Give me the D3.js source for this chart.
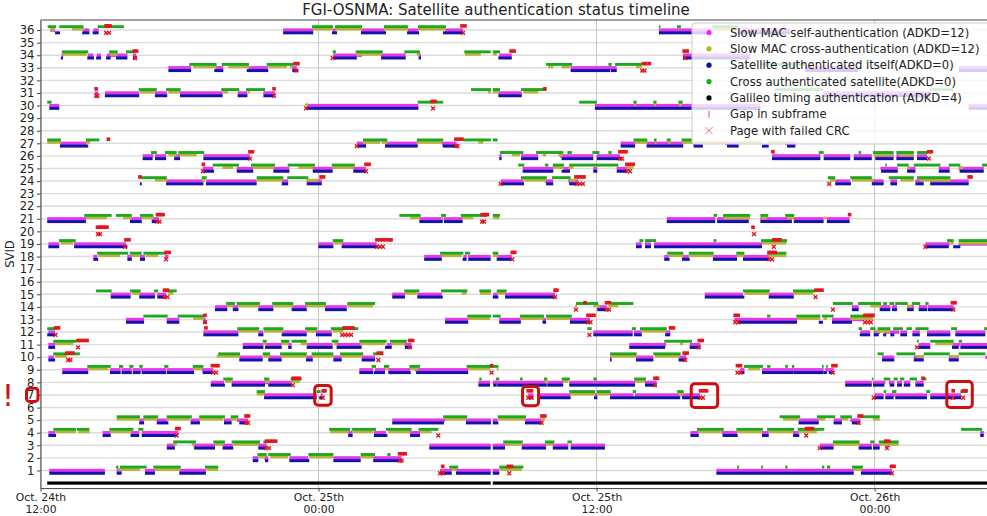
<!DOCTYPE html>
<html>
<head>
<meta charset="utf-8">
<script src="https://cdn.jsdelivr.net/npm/d3@7"></script>
<style>
  body { margin: 0; background: #fff; }
  svg text { font-family: "DejaVu Sans", sans-serif; }
</style>
</head>
<body>
<div id="chart"></div>
<script>
// hours since Oct 24th 00:00, one entry per segment: [svid, start, end]
var slowSelf = [
[36,12.41,12.63],[36,13.85,14.11],[36,14.28,14.51],[36,22.47,23.77],[36,24.62,24.75],[36,25.83,26.87],[36,27.86,28.29],[36,29.46,30.24],[36,38.69,40.95],[36,42.1,44.35],
[34,12.92,12.98],[34,14.04,14.28],[34,14.43,14.61],[34,14.86,15.75],[34,15.99,16.12],[34,24.64,25.65],[34,25.65,25.88],[34,26.70,27.76],[34,28.32,28.42],[34,31.80,32.34],[34,39.73,42.62],
[33,17.52,18.50],[33,19.56,19.89],[33,20.97,21.81],[33,22.84,23.06],[33,34.88,36.87],[33,45.0,47.3],[33,51.63,52.86],
[31,14.35,14.49],[31,14.78,16.26],[31,16.94,17.45],[31,18.02,19.86],[31,20.51,20.93],[31,21.62,22.12],[31,31.76,32.77],[31,45.78,50.40],
[30,12.38,12.81],[30,23.49,28.31],[30,35.93,43.07],[30,52.06,52.86],
[27,12.84,13.99],[27,25.65,26.05],[27,26.87,28.28],[27,29.32,29.96],[27,37.04,37.66],[27,38.16,39.74],[27,40.17,40.55],[27,41.56,42.13],[27,44.14,44.58],
[26,16.41,16.87],[26,16.94,17.42],[26,17.77,18.02],[26,19.03,21.04],[26,31.80,31.90],[26,32.74,33.48],[26,34.42,35.86],[26,36.01,37.01],[26,43.57,45.66],[26,45.80,46.95],[26,47.10,47.88],[26,48.03,48.82],[26,48.94,49.69],[26,49.83,50.26],
[25,19.00,19.46],[25,20.47,21.18],[25,22.05,22.74],[25,23.75,24.61],[25,25.50,26.05],[25,32.81,34.13],[25,34.56,34.85],[25,35.86,36.03],[25,36.87,37.44],[25,48.25,49.00],[25,49.40,49.76],[25,50.77,51.24],[25,51.63,52.71],
[24,17.42,19.03],[24,19.14,21.33],[24,22.41,22.69],[24,23.49,24.14],[24,31.86,32.84],[24,33.77,34.13],[24,34.78,35.21],[24,46.30,46.95],[24,47.88,48.39],[24,48.68,48.97],[24,49.76,50.12],[24,50.40,52.06],
[21,12.29,13.96],[21,15.86,16.37],[21,16.80,17.11],[21,28.35,29.38],[21,29.41,30.22],[21,39.03,41.12],[21,41.20,42.57],[21,43.07,44.43],[21,44.51,45.80],[21,45.94,46.92],
[19,12.34,12.81],[19,13.45,15.69],[19,23.99,24.64],[19,25.00,26.51],[19,37.70,37.95],[19,38.09,38.35],[19,38.48,43.14],[19,50.19,51.24],[19,51.63,52.86],
[18,14.28,14.45],[18,15.75,15.94],[18,16.29,16.51],[18,17.37,17.52],[18,28.56,29.32],[18,30.25,30.39],[18,30.46,31.43],[18,31.69,32.34],[18,38.92,39.11],[18,39.69,39.98],[18,41.02,42.06],[18,42.32,43.50],
[15,15.03,15.89],[15,16.26,16.94],[15,17.04,17.42],[15,27.18,27.73],[15,28.26,29.32],[15,31.54,31.73],[15,32.05,34.21],[15,40.67,42.32],[15,43.43,44.51],
[14,19.53,20.06],[14,20.30,20.54],[14,21.40,22.05],[14,22.84,23.49],[14,24.28,25.22],[14,36.03,36.44],[14,47.02,47.31],[14,48.22,48.68],[14,48.75,48.97],[14,49.40,49.69],[14,49.90,50.26],[14,50.29,51.41],
[13,15.69,16.47],[13,17.45,17.99],[13,19.03,19.13],[13,29.46,30.46],[13,31.80,32.73],[13,33.67,33.82],[13,34.85,35.72],[13,41.95,44.65],[13,46.16,47.54],
[12,12.34,12.63],[12,19.03,20.54],[12,21.40,21.62],[12,22.41,23.49],[12,23.89,24.57],[12,35.86,37.56],[12,37.62,37.95],[12,38.96,39.18],[12,47.38,47.81],[12,47.96,48.25],[12,48.42,49.06],[12,49.11,49.40],[12,49.63,49.95],[12,50.26,51.27],[12,51.48,52.78],
[11,12.34,12.63],[11,20.73,21.62],[11,21.69,22.41],[11,22.69,22.84],[11,23.49,24.61],[11,24.78,25.86],[11,26.94,27.16],[11,27.70,28.02],[11,37.41,39.00],[11,40.02,40.48],[11,49.90,50.40],[11,51.34,51.68],[11,51.70,52.86],
[10,12.34,12.58],[10,20.58,21.59],[10,21.83,22.41],[10,23.46,23.75],[10,24.64,25.00],[10,25.86,26.44],[10,36.58,36.65],[10,37.70,38.45],[10,39.54,39.87],[10,48.32,48.85],[10,49.69,50.12],[10,51.20,51.63],[10,52.78,52.86],
[9,12.94,14.06],[9,15.00,15.46],[9,15.50,15.94],[9,15.98,16.32],[9,16.32,17.42],[9,17.45,18.63],[9,18.96,19.46],[9,25.76,26.36],[9,26.44,26.87],[9,27.01,27.95],[9,28.16,30.46],[9,42.20,42.38],[9,43.14,44.51],[9,44.51,45.80],[9,45.87,46.23],
[8,19.35,19.92],[8,20.25,21.83],[8,21.83,22.84],[8,30.90,31.40],[8,31.52,31.71],[8,31.71,33.85],[8,33.87,34.56],[8,34.82,35.86],[8,35.86,37.66],[8,38.09,38.59],[8,46.73,47.88],[8,47.93,48.46],[8,48.62,48.85],[8,48.97,49.18],[8,49.26,49.54],[8,49.76,50.12],
[7,21.65,23.92],[7,24.09,24.18],[7,33.05,33.27],[7,33.56,34.88],[7,35.93,36.03],[7,36.58,37.59],[7,37.66,39.61],[7,39.64,40.48],[7,47.99,48.39],[7,48.46,48.85],[7,48.85,50.26],[7,50.40,51.73],
[5,16.26,16.47],[5,17.02,17.47],[5,18.48,18.88],[5,19.92,20.25],[5,20.47,20.97],[5,27.18,29.46],[5,30.36,31.44],[5,31.52,31.73],[5,32.91,33.63],[5,44.72,45.59],[5,46.23,46.59],[5,46.95,47.38],
[4,12.34,12.63],[4,14.68,15.03],[4,15.89,16.26],[4,16.37,17.95],[4,25.28,25.47],[4,26.39,26.91],[4,27.95,28.38],[4,40.05,40.41],[4,41.41,42.06],[4,43.14,43.43],[4,44.48,44.72],[4,52.56,52.71],
[3,17.45,17.80],[3,18.59,19.53],[3,19.86,20.30],[3,21.40,21.76],[3,28.78,31.43],[3,31.52,32.05],[3,32.77,33.82],[3,34.11,34.78],[3,34.88,36.36],[3,45.63,46.23],[3,47.31,47.88],[3,47.93,48.22],[3,48.46,48.68],
[2,21.16,21.40],[2,21.65,21.83],[2,22.74,23.56],[2,24.64,25.82],[2,26.36,27.59],
[1,12.38,14.78],[1,15.29,15.50],[1,16.51,16.94],[1,17.99,19.14],[1,29.24,29.75],[1,29.93,31.43],[1,31.52,31.80],[1,41.17,47.10],[1,47.41,48.75]
];

var slowCross = [
[36,12.41,12.63],[36,13.35,13.85],[36,23.77,24.62],[36,24.71,25.88],[36,26.82,27.86],[36,28.29,29.50],[36,41.0,42.1],
[34,12.97,13.99],[34,15.00,15.31],[34,25.66,26.70],[34,28.24,28.35],[34,30.32,31.00],[34,31.54,31.69],
[33,18.59,19.60],[33,20.11,21.00],[33,21.83,22.63],[33,22.77,22.89],[33,33.92,34.13],[33,34.49,34.85],[33,37.70,37.95],
[31,16.29,16.94],[31,17.52,18.02],[31,19.88,20.09],[31,20.96,21.04],[31,31.31,31.43],[31,31.52,31.80],[31,32.84,33.48],
[30,23.42,23.56],[30,37.62,37.70],[30,38.48,38.57],[30,39.55,39.69],
[27,12.29,12.88],[27,13.96,14.14],[27,25.92,26.66],[27,26.73,26.97],[27,28.24,29.32],[27,30.90,31.11],[27,37.66,38.19],[27,38.52,38.59],[27,39.09,39.20],[27,39.69,41.56],[27,42.13,43.14],[27,43.43,44.22],
[26,17.52,17.88],[26,17.99,18.74],[26,32.34,32.69],[26,33.67,33.82],[26,34.35,34.56],[26,47.96,48.79],[26,49.06,49.70],
[25,19.86,20.32],[25,21.18,22.05],[25,23.13,23.77],[25,24.61,25.50],[25,34.13,34.59],[25,34.78,35.00],[25,37.30,37.59],[25,49.40,49.54],[25,51.63,51.82],
[24,16.94,17.45],[24,18.96,19.10],[24,21.33,22.45],[24,23.49,23.99],[24,32.84,33.82],[24,34.85,35.14],[24,46.06,46.30],[24,47.02,47.96],[24,49.11,49.69],[24,49.95,51.27],
[21,13.96,14.86],[21,15.57,15.94],[21,16.37,16.87],[21,27.95,28.38],[21,29.29,29.38],[21,30.18,30.68],[21,31.54,31.80],[21,41.49,42.63],[21,43.14,43.36],[21,44.22,44.53],[21,45.80,45.94],
[19,12.87,13.42],[19,24.67,25.02],[19,43.14,44.19],[19,51.27,51.41],[19,51.63,52.86],
[18,14.49,15.43],[18,15.94,16.29],[18,16.55,17.08],[18,29.32,30.18],[18,31.52,31.76],[18,39.11,39.76],[18,39.98,41.05],[18,42.06,42.38],[18,43.43,44.19],
[15,15.94,16.29],[15,17.52,17.73],[15,27.73,28.24],[15,30.18,30.39],[15,30.97,31.43],[15,31.73,32.05],[15,42.38,43.43],[15,44.51,45.36],
[14,20.06,20.32],[14,20.54,21.40],[14,22.05,22.91],[14,23.49,24.28],[14,25.24,26.36],[14,35.07,35.16],[14,35.86,36.15],[14,36.51,36.94],[14,47.81,48.28],[14,49.40,49.61],
[13,18.59,19.03],[13,30.46,31.40],[13,32.73,33.70],[13,33.85,34.85],[13,44.65,45.65],[13,45.80,45.94],[13,46.95,47.93],
[12,20.54,21.40],[12,21.65,22.48],[12,23.49,23.89],[12,24.61,25.07],[12,37.95,39.03],[12,48.03,48.68],
[11,12.63,13.42],[11,21.62,21.76],[11,22.41,22.69],[11,23.23,23.49],[11,24.67,24.80],[11,25.79,26.87],[11,27.16,27.73],[11,39.59,39.74],[11,50.62,51.41],
[10,12.63,13.13],[10,19.60,20.61],[10,21.62,21.91],[10,22.41,23.49],[10,23.75,24.64],[10,25.00,25.86],[10,36.65,37.73],[10,38.52,39.60],[10,49.80,50.12],[10,51.22,51.63],
[9,14.06,14.93],[9,18.59,18.96],[9,26.87,27.01],[9,27.95,28.31],[9,30.46,31.40],[9,31.69,31.76],[9,42.54,43.05],
[8,19.96,20.25],[8,21.69,21.88],[8,22.80,23.20],[8,33.77,33.92],[8,34.56,34.78],[8,37.66,38.09],
[7,21.33,21.65],[7,34.85,35.93],[7,36.03,36.58],[7,39.53,39.74],
[5,15.29,16.26],[5,16.44,17.02],[5,17.45,18.45],[5,18.85,19.89],[5,20.21,20.47],[5,29.46,30.36],[5,31.76,32.91],[5,33.63,33.77],[5,44.05,44.70],[5,45.59,45.87],[5,46.59,46.86],[5,47.93,48.22],
[4,12.63,13.53],[4,13.63,14.11],[4,15.00,15.94],[4,24.50,25.28],[4,25.50,26.36],[4,27.01,27.95],[4,28.38,28.88],[4,40.41,41.41],[4,42.06,43.14],[4,43.43,44.48],[4,44.72,45.51],
[3,17.73,17.88],[3,18.53,18.67],[3,19.53,19.89],[3,20.32,21.40],[3,32.05,32.77],[3,33.82,34.13],[3,46.23,47.37],[3,48.22,49.04],
[2,21.40,21.69],[2,21.91,22.69],[2,23.60,24.64],[2,25.82,26.36],
[1,15.36,16.29],[1,16.94,18.02],[1,19.17,19.67],[1,29.75,29.96],[1,31.83,32.77],[1,47.10,47.46]
];

var selfAuth = [
[36,12.63,12.84],[36,13.80,14.11],[36,14.25,14.51],[36,22.47,23.77],[36,24.58,24.80],[36,25.83,26.91],[36,27.82,28.34],[36,29.37,30.24],[36,38.69,40.95],[36,42.1,44.35],
[34,12.88,12.97],[34,14.02,14.31],[34,14.40,14.61],[34,14.83,15.03],[34,15.26,15.75],[34,15.99,16.15],[34,24.64,25.65],[34,26.70,27.76],[34,28.32,28.42],[34,31.76,32.34],[34,39.73,42.62],
[33,17.52,18.50],[33,19.50,19.89],[33,20.90,21.83],[33,22.87,23.13],[33,34.88,36.58],[33,36.61,36.87],[33,45.0,47.3],[33,51.63,52.86],
[31,14.35,14.49],[31,14.78,16.26],[31,16.94,17.47],[31,18.02,19.86],[31,20.51,20.93],[31,21.62,22.12],[31,31.76,32.77],[31,45.78,50.40],
[30,12.38,12.81],[30,23.49,28.31],[30,35.93,43.07],[30,52.06,52.86],
[27,12.84,14.06],[27,25.70,26.05],[27,26.87,28.28],[27,29.36,29.96],[27,37.04,37.66],[27,38.16,39.74],[27,40.19,40.59],[27,41.63,42.13],[27,43.14,43.43],[27,44.22,44.58],
[26,16.41,16.84],[26,16.94,17.42],[26,17.77,18.02],[26,19.03,21.04],[26,31.80,31.90],[26,32.74,33.48],[26,34.49,35.86],[26,36.01,37.01],[26,43.57,45.66],[26,45.80,46.95],[26,47.10,47.88],[26,48.03,48.82],[26,48.94,49.69],[26,49.83,50.26],
[25,19.00,19.49],[25,20.47,21.18],[25,22.05,22.74],[25,23.75,24.61],[25,25.50,26.05],[25,32.81,34.13],[25,34.49,34.85],[25,35.86,36.03],[25,36.87,37.30],[25,48.28,49.00],[25,49.40,49.76],[25,50.77,51.24],[25,51.67,52.71],
[24,16.29,16.37],[24,17.42,19.03],[24,19.14,21.33],[24,22.41,22.69],[24,23.49,24.14],[24,31.90,32.87],[24,33.82,34.13],[24,34.82,35.21],[24,46.30,46.98],[24,47.88,48.39],[24,48.68,48.97],[24,49.76,50.12],[24,50.40,52.06],
[21,12.29,13.96],[21,15.86,16.37],[21,16.80,17.11],[21,28.35,29.36],[21,29.41,30.22],[21,39.03,41.12],[21,41.20,42.57],[21,43.07,44.43],[21,44.51,45.80],[21,45.94,46.92],
[19,12.34,12.81],[19,13.45,15.75],[19,23.99,24.64],[19,25.00,26.58],[19,37.70,37.95],[19,38.09,38.35],[19,38.48,43.14],[19,50.19,51.20],[19,51.39,51.70],
[18,14.28,14.49],[18,15.75,15.94],[18,16.29,16.51],[18,28.56,29.32],[18,30.22,30.39],[18,30.46,31.43],[18,31.69,32.34],[18,38.92,39.15],[18,39.69,40.02],[18,41.02,42.06],[18,42.32,43.43],
[15,15.03,15.89],[15,16.26,16.94],[15,17.04,17.42],[15,27.18,27.73],[15,28.26,29.36],[15,31.52,31.76],[15,32.05,34.21],[15,40.67,42.38],[15,43.43,44.51],
[14,19.53,20.06],[14,20.30,20.54],[14,21.40,22.05],[14,22.84,23.49],[14,24.28,25.22],[14,36.03,36.44],[14,47.02,47.31],[14,48.22,48.68],[14,48.75,48.97],[14,49.40,49.69],[14,49.90,50.26],[14,50.29,51.41],
[13,15.69,16.47],[13,17.45,17.99],[13,19.03,19.17],[13,29.46,30.46],[13,31.80,32.73],[13,33.67,33.82],[13,34.85,35.72],[13,42.06,44.65],[13,45.59,45.77],[13,46.16,47.02],
[12,12.29,12.63],[12,19.03,20.54],[12,21.40,21.62],[12,22.41,23.49],[12,23.89,24.57],[12,35.86,37.56],[12,37.62,37.95],[12,38.96,39.18],[12,47.36,47.81],[12,47.96,48.18],[12,48.37,48.50],[12,48.68,48.85],[12,49.11,49.40],[12,49.63,49.95],[12,50.26,51.27],[12,51.48,52.78],
[11,12.34,12.63],[11,20.73,21.62],[11,21.69,22.41],[11,22.69,22.84],[11,23.49,24.61],[11,24.78,25.86],[11,26.87,27.16],[11,27.73,28.02],[11,37.41,38.96],[11,40.02,40.48],[11,49.90,50.40],[11,51.34,51.63],[11,51.70,52.86],
[10,12.34,12.63],[10,20.58,21.59],[10,21.83,22.41],[10,23.46,23.75],[10,24.64,25.00],[10,25.86,26.44],[10,36.58,36.65],[10,37.70,38.45],[10,39.54,39.87],[10,48.32,48.85],[10,49.69,50.12],[10,51.20,51.63],
[9,12.94,14.06],[9,15.00,15.46],[9,15.50,15.94],[9,15.98,16.32],[9,16.37,17.42],[9,17.45,18.63],[9,19.00,19.46],[9,25.76,26.36],[9,26.39,26.87],[9,27.01,27.98],[9,28.21,30.46],[9,42.20,42.38],[9,43.14,44.51],[9,44.51,45.80],[9,45.80,45.94],[9,46.02,46.23],
[8,19.35,19.96],[8,20.25,21.69],[8,21.83,22.84],[8,30.90,31.40],[8,31.54,31.69],[8,31.71,33.85],[8,33.87,34.56],[8,34.82,37.66],[8,38.09,38.59],[8,46.73,47.88],[8,47.93,48.42],[8,48.65,48.85],[8,48.97,49.18],[8,49.26,49.54],[8,49.76,50.12],
[7,21.65,23.92],[7,24.03,24.24],[7,33.05,33.27],[7,33.56,34.88],[7,35.89,36.03],[7,36.58,39.61],[7,39.69,40.48],[7,47.99,48.39],[7,48.46,48.82],[7,48.89,50.26],[7,50.40,51.73],
[5,16.26,16.47],[5,17.02,17.52],[5,18.48,18.88],[5,19.92,20.25],[5,20.58,20.97],[5,27.18,29.41],[5,30.36,31.44],[5,31.52,31.76],[5,32.91,33.63],[5,44.72,45.59],[5,46.23,46.59],[5,47.02,47.38],
[4,12.34,12.67],[4,14.68,15.03],[4,15.89,16.26],[4,16.37,17.88],[4,25.28,25.47],[4,26.39,26.97],[4,27.95,28.38],[4,40.05,40.41],[4,41.44,42.09],[4,43.14,43.43],[4,44.48,44.75],[4,52.56,52.71],
[3,17.45,17.80],[3,18.63,19.53],[3,19.86,20.32],[3,21.40,21.76],[3,28.78,31.43],[3,31.52,32.05],[3,32.77,33.82],[3,34.11,34.78],[3,34.88,36.36],[3,45.66,46.23],[3,47.31,47.88],[3,47.93,48.22],
[2,21.16,21.40],[2,21.69,21.83],[2,22.74,23.60],[2,24.64,25.82],[2,26.36,27.59],
[1,12.38,14.78],[1,15.29,15.50],[1,16.51,16.94],[1,17.99,19.14],[1,29.24,29.75],[1,29.93,31.43],[1,31.52,31.80],[1,41.17,47.10],[1,47.41,48.75]
];

var crossAuth = [
[36,12.31,12.67],[36,12.81,13.86],[36,14.47,15.60],[36,23.72,24.62],[36,24.71,25.88],[36,26.82,27.86],[36,28.29,29.50],[36,38.69,38.74],[36,39.47,39.64],[36,41.0,42.1],
[34,12.92,14.06],[34,14.96,15.33],[34,15.69,16.05],[34,24.61,24.75],[34,25.60,26.77],[34,27.70,28.38],[34,30.29,31.43],[34,31.52,31.83],
[33,18.42,19.60],[33,19.82,21.00],[33,21.76,22.91],[33,33.82,34.95],[33,36.51,36.65],[33,36.80,37.95],[33,43.05,45.0],
[31,16.24,17.02],[31,17.42,18.05],[31,19.80,20.58],[31,20.87,21.69],[31,30.58,31.44],[31,31.52,31.83],[31,32.74,33.82],[31,43.70,45.78],[31,50.40,51.39],
[30,12.29,12.48],[30,28.28,29.38],[30,35.25,36.01],[30,37.59,37.73],[30,38.45,38.59],[30,39.53,39.72],
[27,12.29,12.88],[27,13.96,14.54],[27,25.92,26.97],[27,28.24,29.38],[27,30.25,31.44],[27,31.52,31.73],[27,37.59,38.19],[27,38.48,38.59],[27,39.03,39.20],[27,39.67,40.12],
[26,16.77,17.02],[26,17.37,17.88],[26,17.95,19.07],[26,31.83,32.84],[26,33.39,34.56],[26,34.74,34.93],[26,35.82,36.12],[26,36.51,36.65],[26,45.59,45.80],[26,47.31,47.41],[26,47.93,48.82],[26,48.94,49.69],[26,49.83,50.29],
[25,19.43,20.57],[25,21.08,22.12],[25,22.67,23.85],[25,24.57,25.57],[25,32.62,32.88],[25,33.77,33.92],[25,34.11,34.59],[25,34.82,36.94],[25,48.46,48.53],[25,48.97,49.47],[25,49.69,50.84],[25,51.20,51.70],[25,52.64,52.86],
[24,16.32,17.45],[24,18.96,19.17],[24,21.33,22.48],[24,22.65,23.56],[24,32.73,33.85],[24,34.08,34.88],[24,45.98,46.30],[24,46.95,47.88],[24,48.61,49.69],[24,49.83,51.27],
[21,13.89,15.07],[21,15.26,15.94],[21,16.29,16.87],[21,27.49,28.41],[21,29.29,29.50],[21,30.14,31.26],[21,31.52,31.83],[21,41.05,41.20],[21,41.46,42.63],[21,43.07,43.41],[21,44.14,44.53],
[19,12.80,13.52],[19,24.61,25.07],[19,37.85,38.02],[19,38.09,38.57],[19,41.05,41.17],[19,43.10,44.22],[19,51.13,51.41],[19,51.63,52.86],
[18,14.45,15.79],[18,15.86,16.37],[18,16.44,17.42],[18,29.24,30.25],[18,30.32,30.54],[18,31.52,31.76],[18,39.05,39.74],[18,39.98,41.05],[18,42.03,42.38],[18,43.36,44.19],
[15,14.40,15.07],[15,15.86,16.32],[15,16.90,17.08],[15,17.45,17.88],[15,27.70,28.35],[15,29.29,30.42],[15,30.94,31.44],[15,31.69,32.12],[15,42.32,43.47],[15,44.48,45.44],
[14,20.01,20.39],[14,20.47,21.47],[14,22.00,22.91],[14,23.42,24.32],[14,25.24,26.44],[14,35.11,36.07],[14,36.61,37.59],[14,46.20,47.06],[14,47.28,48.28],[14,48.37,48.54],[14,48.64,48.85],[14,48.89,49.43],[14,49.61,49.97],[14,50.19,50.33],
[13,16.44,17.49],[13,17.92,19.07],[13,30.42,31.44],[13,31.52,31.86],[13,32.69,33.73],[13,33.82,34.93],[13,43.36,43.50],[13,44.62,45.66],[13,45.73,46.23],[13,46.95,47.96],
[12,12.29,12.63],[12,20.49,21.44],[12,21.62,22.48],[12,23.42,23.95],[12,24.53,25.72],[12,35.60,35.79],[12,37.52,37.70],[12,37.87,39.03],[12,47.31,47.46],[12,47.81,48.03],[12,48.13,48.68],[12,48.80,49.22],[12,49.37,49.61],[12,49.76,50.33],[12,51.30,51.56],[12,52.73,52.86],
[11,12.55,13.56],[11,21.59,21.76],[11,22.38,22.74],[11,22.84,23.49],[11,24.57,24.86],[11,25.76,26.94],[11,27.08,27.81],[11,38.92,40.12],[11,49.83,49.90],[11,50.40,51.41],[11,51.63,51.77],
[10,12.55,13.70],[10,19.67,20.61],[10,21.59,21.91],[10,22.34,23.49],[10,23.70,24.64],[10,24.93,25.93],[10,26.36,26.79],[10,36.58,37.73],[10,38.45,39.63],[10,39.76,39.90],[10,48.13,48.39],[10,48.94,49.76],[10,50.12,51.24],[10,51.63,52.78],
[9,14.02,15.03],[9,15.39,15.57],[9,15.83,16.01],[9,16.26,16.41],[9,17.34,17.52],[9,18.57,19.03],[9,26.29,26.48],[9,26.82,27.05],[9,27.92,28.38],[9,30.39,31.76],[9,42.36,43.18],[9,43.36,43.50],[9,44.14,44.26],[9,44.43,44.53],[9,45.73,45.80],[9,45.91,45.98],
[8,19.89,20.30],[8,21.65,21.88],[8,22.80,23.27],[8,30.94,31.04],[8,31.66,31.80],[8,32.69,32.81],[8,33.73,33.87],[8,34.49,34.85],[8,35.86,36.01],[8,37.62,38.13],[8,47.88,47.93],[8,48.39,48.68],[8,48.82,49.00],[8,49.09,49.28],[8,49.51,49.83],[8,50.05,50.23],
[7,21.33,21.69],[7,23.92,24.09],[7,34.82,35.93],[7,36.01,36.61],[7,37.56,37.70],[7,39.48,39.76],[7,48.39,48.50],[7,48.75,48.94],[7,50.23,50.40],[7,51.70,51.99],
[5,15.29,16.29],[5,16.44,17.08],[5,17.45,18.53],[5,18.85,19.96],[5,20.21,20.54],[5,29.38,30.42],[5,31.73,32.95],[5,43.90,44.79],[5,45.51,46.30],[5,46.52,47.02],[5,47.41,48.22],
[4,12.55,13.53],[4,13.56,14.11],[4,14.97,16.01],[4,16.22,16.44],[4,24.46,25.36],[4,25.43,26.48],[4,26.91,28.02],[4,28.31,29.17],[4,40.33,41.49],[4,42.03,43.18],[4,43.36,44.53],[4,44.68,45.83],[4,51.73,52.64],
[3,17.73,18.71],[3,19.46,19.96],[3,20.25,21.47],[3,21.62,21.76],[3,31.97,32.81],[3,33.77,34.18],[3,34.74,34.93],[3,46.20,47.35],[3,47.81,47.99],[3,48.18,49.04],
[2,21.36,21.76],[2,21.83,22.80],[2,23.56,24.64],[2,25.82,26.44],[2,26.97,27.11],
[1,15.26,15.36],[1,15.43,16.58],[1,16.87,18.05],[1,19.10,19.67],[1,29.64,30.03],[1,31.80,32.84],[1,42.06,42.15],[1,43.10,43.18],[1,44.14,44.24],[1,45.73,45.83],[1,45.94,46.09],[1,47.02,47.50]
];

// Galileo timing authentication, drawn on SVID 0
var timingAuth = [[12.29,31.43],[31.52,52.86]];

// [svid, hour]
var gapPages = [
[36,14.83],[36,14.91],[36,15.0],[36,30.19],[36,30.32],
[34,16.04],[34,16.15],[34,32.31],[34,32.44],[34,39.78],[34,39.91],
[33,22.98],[33,23.11],[33,38.02],[33,38.13],[33,38.28],
[31,14.40],[31,22.08],[31,33.77],
[30,28.90],[30,29.03],
[27,14.93],[27,29.93],[27,30.06],[27,30.19],
[26,21.04],[26,21.15],[26,37.01],[26,37.14],[26,37.27],[26,43.61],[26,50.34],[26,50.45],
[25,19.03],[25,26.05],[25,26.18],[25,37.31],[25,37.44],[25,37.58],
[24,16.29],[24,24.11],[24,24.22],[24,35.11],[24,35.24],[24,35.37],[24,35.46],[24,52.08],[24,52.16],
[21,17.05],[21,17.16],[21,17.29],[21,31.06],[21,31.19],[21,31.29],[21,46.92],
[20,14.46],[20,14.55],[20,14.61],[20,14.70],[20,14.78],[20,14.87],[20,42.75],
[19,15.69],[19,15.82],[19,26.52],[19,26.65],[19,26.78],[19,26.91],[19,27.04],[19,27.13],[19,43.65],[19,43.78],[19,43.91],
[18,17.42],[18,17.55],[18,32.36],[18,32.47],[18,43.45],[18,43.58],[18,43.71],
[15,17.35],[15,17.48],[15,34.21],[15,34.29],[15,45.47],[15,45.60],[15,45.73],
[14,35.50],[14,36.43],[14,36.56],[14,51.36],[14,51.47],
[13,19.10],[13,35.63],[13,35.76],[13,35.89],[13,41.98],[13,42.11],[13,47.58],[13,47.71],[13,47.84],[13,47.93],
[12,12.65],[12,12.78],[12,19.14],[12,25.10],[12,25.23],[12,25.36],[12,25.49],[12,39.19],[12,39.32],
[11,13.62],[11,13.75],[11,13.88],[11,14.01],[11,27.93],[11,28.06],[11,40.43],[11,40.56],
[10,13.14],[10,13.27],[10,13.40],[10,26.58],[10,26.72],[10,39.78],[10,39.91],
[9,19.42],[9,19.55],[9,19.66],[9,31.47],[9,42.08],[9,42.21],[9,46.20],[9,46.33],
[8,22.91],[8,23.04],[8,23.17],[8,38.52],[8,38.63],[8,50.09],
[7,24.20],[7,24.28],[7,33.05],[7,33.19],[7,40.49],[7,40.62],[7,40.75],[7,51.39],[7,51.82],[7,51.95],
[5,20.87],[5,20.98],[5,33.64],[5,33.77],[5,47.33],[5,47.44],
[4,17.88],[4,17.98],[4,45.06],[4,45.19],[4,45.32],
[3,21.76],[3,21.89],[3,22.02],[3,22.15],[3,48.48],[3,48.61],
[2,27.50],[2,27.63],[2,27.74],
[1,29.36],[1,32.19],[1,32.33],[1,48.73],[1,48.84]
];

var crcPages = [
[36,14.83],[36,14.96],[36,30.24],
[34,16.08],[34,24.61],[34,39.82],
[33,23.03],[33,37.97],[33,38.07],
[31,14.40],[31,14.46],[31,22.08],
[30,23.46],[30,28.94],
[27,25.65],[27,29.93],[27,30.00],
[26,21.04],[26,37.01],[26,37.10],[26,50.34],
[25,19.01],[25,26.05],[25,37.31],[25,37.44],
[24,31.86],[24,35.15],[24,35.28],[24,35.41],[24,46.04],
[21,17.03],[21,17.14],[21,31.06],[21,31.14],
[20,14.48],[20,14.57],[20,42.79],
[19,15.65],[19,26.52],[19,26.65],[19,26.78],[19,43.65],[19,50.19],
[18,17.42],[18,32.36],[18,43.45],[18,43.58],
[15,17.35],[15,17.48],[15,34.21],[15,45.45],
[14,35.11],[14,36.43],[14,36.54],[14,46.20],[14,51.40],
[13,19.10],[13,35.63],[13,35.74],[13,41.98],[13,42.11],[13,47.58],[13,47.71],[13,47.84],
[12,12.65],[12,25.02],[12,25.15],[12,25.28],[12,25.41],[12,35.69],
[11,13.62],[11,27.93],[11,40.41],[11,49.83],
[10,13.19],[10,13.29],[10,26.58],[10,39.82],
[9,19.45],[9,19.58],[9,31.47],[9,42.08],[9,42.21],[9,46.20],
[8,22.89],[8,38.52],
[7,24.18],[7,33.05],[7,33.19],[7,40.48],[7,40.59],[7,47.96],[7,51.39],[7,51.82],
[5,20.87],[5,20.96],[5,33.63],[5,47.31],
[4,17.88],[4,29.17],[4,45.05],
[3,21.73],[3,21.86],[3,45.63],[3,48.53],
[2,27.50],[2,27.59],
[1,29.24],[1,29.38],[1,32.23],[1,48.75]
];

var svids = d3.range(1, 37);
var xTicks = [12, 24, 36, 48];
var xTickLabels = [["Oct. 24th", "12:00"], ["Oct. 25th", "00:00"], ["Oct. 25th", "12:00"], ["Oct. 26th", "00:00"]];
var legendLabels = [
  "Slow MAC self-authentication (ADKD=12)",
  "Slow MAC cross-authentication (ADKD=12)",
  "Satellite authenticated itself(ADKD=0)",
  "Cross authenticated satellite(ADKD=0)",
  "Galileo timing authentication (ADKD=4)",
  "Gap in subframe",
  "Page with failed CRC"
];
// highlighted SVID 7 events: [start hour, end hour, svid low, svid high]
var highlights = [[23.77, 24.61, 6.07, 7.87], [32.74, 33.56, 6.02, 7.79], [40.02, 41.29, 5.89, 8.01], [51.05, 52.28, 5.89, 8.19]];

var svgWidth = 987, svgHeight = 516;
var plotLeft = 40.5, plotRight = 990, plotTop = 20, plotBottom = 488.1;

var colors = {
  magenta: "#e637e6",
  olive: "#b8b33a",
  blue: "#1212ad",
  green: "#1fa81f",
  red: "#e3171c"
};

var svg = d3.select("#chart").append("svg")
  .attr("width", svgWidth)
  .attr("height", svgHeight);

var x = d3.scaleLinear().domain([12, 52.98]).range([plotLeft, plotRight]);
var y = d3.scaleLinear().domain([-0.4, 36.8]).range([plotBottom, plotTop]);

svg.append("clipPath").attr("id", "plot-clip")
  .append("rect")
  .attr("x", plotLeft).attr("y", plotTop)
  .attr("width", plotRight - plotLeft).attr("height", plotBottom - plotTop);

// grid
var grid = svg.append("g");
grid.selectAll("line.h").data(svids).enter().append("line")
  .attr("x1", plotLeft).attr("x2", svgWidth)
  .attr("y1", d => y(d)).attr("y2", d => y(d))
  .attr("stroke", "#dcdcdc").attr("stroke-width", 1.4);
grid.selectAll("line.v").data(xTicks).enter().append("line")
  .attr("x1", d => x(d)).attr("x2", d => x(d))
  .attr("y1", plotTop).attr("y2", plotBottom)
  .attr("stroke", "#c4c4c4").attr("stroke-width", 1);

var plot = svg.append("g").attr("clip-path", "url(#plot-clip)");

function drawSegments(data, offset, h, color) {
  plot.append("g").selectAll("rect").data(data).enter().append("rect")
    .attr("x", d => x(d[1]))
    .attr("width", d => Math.max(1.5, x(d[2]) - x(d[1])))
    .attr("y", d => y(d[0] + offset) - h / 2)
    .attr("height", h)
    .attr("fill", color);
}

drawSegments(slowSelf, 0, 3.4, colors.magenta);
drawSegments(slowCross, 0.07, 2.8, colors.olive);
drawSegments(selfAuth, -0.22, 3, colors.blue);
drawSegments(crossAuth, 0.27, 2.9, colors.green);

plot.append("g").selectAll("rect").data(timingAuth).enter().append("rect")
  .attr("x", d => x(d[0]))
  .attr("width", d => x(d[1]) - x(d[0]))
  .attr("y", y(0) - 1.6)
  .attr("height", 3.2)
  .attr("fill", "#000");

// gap in subframe markers
plot.append("g").selectAll("rect").data(gapPages).enter().append("rect")
  .attr("x", d => x(d[1]) - 1.8)
  .attr("width", 3.6)
  .attr("y", d => y(d[0] + 0.33) - 1.8)
  .attr("height", 3.6)
  .attr("fill", colors.red);

// failed CRC markers
plot.append("g").selectAll("path").data(crcPages).enter().append("path")
  .attr("d", function(d) {
    var cx = x(d[1]), cy = y(d[0] - 0.22), s = 1.9;
    return `M${cx - s},${cy - s}L${cx + s},${cy + s}M${cx - s},${cy + s}L${cx + s},${cy - s}`;
  })
  .attr("stroke", colors.red)
  .attr("stroke-width", 1.4)
  .attr("fill", "none");

// axes
var yAxis = svg.append("g")
  .attr("transform", `translate(${plotLeft},0)`)
  .call(d3.axisLeft(y).tickValues(svids).tickSize(3.5).tickSizeOuter(0).tickPadding(2.5));
yAxis.selectAll("text").style("font-size", "11.6px").attr("fill", "#222");

var xAxis = svg.append("g")
  .attr("transform", `translate(0,${plotBottom})`)
  .call(d3.axisBottom(x).tickValues(xTicks).tickSize(3.5).tickSizeOuter(0).tickFormat(""));
xAxis.selectAll(".tick").each(function(d, i) {
  var t = d3.select(this).append("text")
    .attr("fill", "#222")
    .attr("text-anchor", "middle")
    .style("font-size", "10.8px");
  t.append("tspan").attr("x", 0).attr("y", 12.5).text(xTickLabels[i][0]);
  t.append("tspan").attr("x", 0).attr("y", 25.2).text(xTickLabels[i][1]);
});
svg.selectAll(".domain, .tick line").attr("stroke", "#444");

svg.append("line")
  .attr("x1", plotLeft).attr("x2", plotRight).attr("y1", plotTop).attr("y2", plotTop)
  .attr("stroke", "#444");

svg.append("text")
  .attr("transform", `translate(10,${(plotTop + plotBottom) / 2}) rotate(-90)`)
  .attr("text-anchor", "middle")
  .attr("dy", "0.35em")
  .style("font-size", "11.6px")
  .attr("fill", "#222")
  .text("SVID");

svg.append("text")
  .attr("x", 496).attr("y", 15)
  .attr("text-anchor", "middle")
  .style("font-size", "15px")
  .attr("fill", "#222")
  .text("FGI-OSNMA: Satellite authentication status timeline");

// legend
var legend = svg.append("g");
legend.append("rect")
  .attr("x", 692).attr("y", 23)
  .attr("width", 320).attr("height", 121)
  .attr("rx", 3)
  .attr("fill", "#fff").attr("fill-opacity", 0.8)
  .attr("stroke", "#cccccc");

var legendColors = ["#ff1aff", "#b5b51f", "#10109f", "#16ad16", "#000"];
var entries = legend.selectAll("g.entry").data(legendLabels).enter().append("g")
  .attr("transform", (d, i) => `translate(709,${32.5 + i * 16.35})`);
entries.each(function(d, i) {
  var g = d3.select(this);
  if (i < 5) {
    g.append("circle").attr("r", 2.6).attr("fill", legendColors[i]);
  } else if (i === 5) {
    g.append("line").attr("y1", -3.5).attr("y2", 3.5)
      .attr("stroke", "#f47272").attr("stroke-width", 1.2);
  } else {
    g.append("path").attr("d", "M-3.5,-3.5L3.5,3.5M-3.5,3.5L3.5,-3.5")
      .attr("stroke", "#f26464").attr("stroke-width", 1).attr("fill", "none");
  }
  g.append("text")
    .attr("x", 21).attr("dy", "0.36em")
    .style("font-size", "11.6px")
    .attr("fill", "#222")
    .text(d);
});

// red highlights of SVID 7
var note = svg.append("g");
note.selectAll("rect").data(highlights).enter().append("rect")
  .attr("x", d => x(d[0]) + 1.5)
  .attr("width", d => x(d[1]) - x(d[0]) - 3)
  .attr("y", d => y(d[3]) + 1.5)
  .attr("height", d => y(d[2]) - y(d[3]) - 3)
  .attr("rx", 3.5)
  .attr("fill", "none")
  .attr("stroke", "#cc1010")
  .attr("stroke-width", 3);

note.append("rect")
  .attr("x", 26.5).attr("y", y(7) - 6.8)
  .attr("width", 11.5).attr("height", 13.2)
  .attr("rx", 3)
  .attr("fill", "none")
  .attr("stroke", "#cc1010")
  .attr("stroke-width", 3);

note.append("text")
  .attr("x", 8).attr("y", y(7) + 11)
  .attr("text-anchor", "middle")
  .style("font-size", "31px")
  .attr("fill", "#d01515")
  .text("!");
</script>
</body>
</html>
